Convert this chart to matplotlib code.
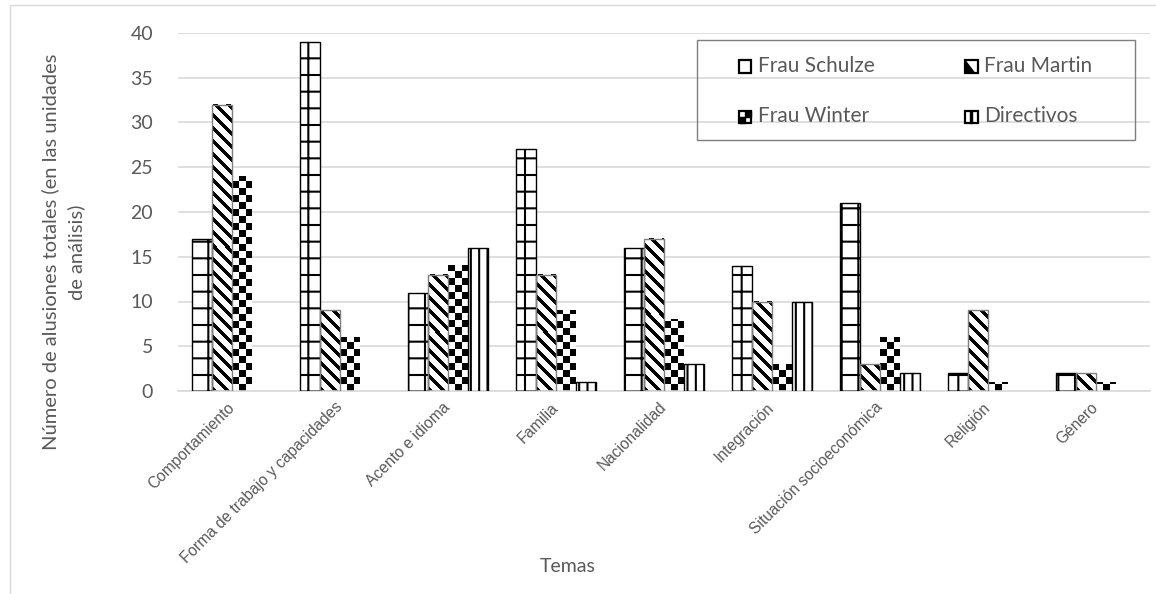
import numpy as np
import matplotlib
matplotlib.use("Agg")
import matplotlib.pyplot as plt
from matplotlib.patches import Rectangle, Polygon
from matplotlib.legend_handler import HandlerBase

temas = ["Comportamiento", "Forma de trabajo y capacidades", "Acento e idioma",
         "Familia", "Nacionalidad", "Integración", "Situación socioeconómica",
         "Religión", "Género"]
series = ["Frau Schulze", "Frau Martin", "Frau Winter", "Directivos"]
schulze = [17, 39, 11, 27, 16, 14, 21, 2, 2]
martin = [32, 9, 13, 13, 17, 10, 3, 9, 2]
winter = [24, 6, 14, 9, 8, 3, 6, 1, 1]
directivos = [0, 0, 16, 1, 3, 10, 2, 0, 0]

GRIS = "#595959"
plt.rcParams["hatch.linewidth"] = 1.5
plt.rcParams["font.family"] = ["Lato", "DejaVu Sans"]

W, H = 1156, 594
fig = plt.figure(figsize=(W / 100, H / 100), dpi=100)
ax = fig.add_axes([178 / W, 1 - 391 / H, 972 / W, 358 / H])

x = np.arange(len(temas))
ancho = 0.185
XLIM, YLIM = (-0.5, len(temas) - 0.5), (0, 40)
ax.set_xlim(*XLIM)
ax.set_ylim(*YLIM)


def relleno(ax, barra, tipo):
    # pattern image at screen resolution, laid over one bar
    x0, y0 = barra.get_x(), barra.get_y()
    x1, y1 = x0 + barra.get_width(), y0 + barra.get_height()
    (px0, py0), (px1, py1) = ax.transData.transform([(x0, y0), (x1, y1)])
    w, h = int(round(px1 - px0)), int(round(py1 - py0))
    if h <= 0:
        return
    yy, xx = np.mgrid[0:h, 0:w]
    if tipo == "ajedrez":
        negro = ((xx // 7 + yy // 7) % 2) == 1
    else:
        negro = ((xx + yy) % 13) < 5
    img = np.where(negro, 0.0, 1.0)
    ax.imshow(img, cmap="gray", vmin=0, vmax=1, origin="lower",
              extent=(x0, x1, y0, y1), aspect="auto",
              interpolation="nearest", zorder=2)


offs = [-1.5, -0.5, 0.5, 1.5]
b1 = ax.bar(x + offs[0] * ancho, schulze, ancho, facecolor="white",
            edgecolor="black", hatch="+", linewidth=1, zorder=3)
b2 = ax.bar(x + offs[1] * ancho, martin, ancho, facecolor="none",
            edgecolor="#7f7f7f", linewidth=1, zorder=3)
b3 = ax.bar(x + offs[2] * ancho, winter, ancho, facecolor="none",
            edgecolor="none", linewidth=0, zorder=3)
b4 = ax.bar(x + offs[3] * ancho, directivos, ancho, facecolor="white",
            edgecolor="black", hatch="||", linewidth=1, zorder=3)
for b in b2:
    relleno(ax, b, "rayas")
for b in b3:
    relleno(ax, b, "ajedrez")
# empty bars leave no outline on the axis
for grupo in (b1, b2, b3, b4):
    for b in grupo:
        if b.get_height() == 0:
            b.set_visible(False)
ax.set_xlim(*XLIM)
ax.set_ylim(*YLIM)

ax.set_yticks(np.arange(0, 41, 5))
ax.yaxis.grid(True, color="#d9d9d9", linewidth=1.2, zorder=0)
ax.set_axisbelow(True)
for s in ["top", "right", "left"]:
    ax.spines[s].set_visible(False)
ax.spines["bottom"].set_color("#d9d9d9")
ax.spines["bottom"].set_linewidth(1.2)
ax.tick_params(axis="both", length=0, colors=GRIS)
ax.tick_params(axis="y", labelsize=14, pad=18)

ax.set_xticks(x)
ax.set_xticklabels(temas, rotation=45, ha="right", va="center",
                   rotation_mode="anchor", fontsize=11.2,
                   family=["Liberation Sans", "DejaVu Sans"])
ax.tick_params(axis="x", pad=10)

fig.text(568 / W, 1 - 567 / H, "Temas", ha="center", va="center",
         fontsize=14, color=GRIS)
fig.text(63 / W, 1 - 252 / H,
         "Número de alusiones totales (en las unidades\nde análisis)",
         rotation=90, ha="center", va="center", fontsize=14.5, color=GRIS,
         multialignment="center", linespacing=1.55)


class Icono(HandlerBase):
    def __init__(self, tipo):
        super().__init__()
        self.tipo = tipo

    def create_artists(self, legend, orig, xd, yd, width, height, fontsize, trans):
        s = height
        x0, y0 = xd + width - s, yd
        arts = [Rectangle((x0, y0), s, s, facecolor="white", edgecolor="black",
                          linewidth=1.6, transform=trans)]
        if self.tipo == "rayas":
            arts.append(Polygon([(x0, y0 + s), (x0 + s * 0.75, y0), (x0, y0)],
                                closed=True, color="black", transform=trans))
        elif self.tipo == "ajedrez":
            arts.append(Rectangle((x0, y0), s / 2, s / 2, color="black", transform=trans))
            arts.append(Rectangle((x0 + s / 2, y0 + s / 2), s / 2, s / 2,
                                  color="black", transform=trans))
        elif self.tipo == "lineas":
            arts.append(Rectangle((x0 + s / 2 - 0.6, y0), 1.2, s, color="black",
                                  transform=trans))
        return arts


leg = fig.legend([b1, b3, b2, b4],
                 [series[0], series[2], series[1], series[3]],
                 handler_map={b1: Icono("liso"), b2: Icono("rayas"),
                              b3: Icono("ajedrez"), b4: Icono("lineas")},
                 loc="center", bbox_to_anchor=(916 / W, 1 - 91 / H),
                 ncol=2, frameon=False, fontsize=15, labelcolor=GRIS,
                 handlelength=0.55, handleheight=0.55, handletextpad=0.3,
                 columnspacing=4.4, labelspacing=1.45)

fig.add_artist(Rectangle((697 / W, 1 - 140 / H), 438 / W, 100 / H,
                         transform=fig.transFigure, fill=False,
                         edgecolor="#7f7f7f", linewidth=1))
fig.add_artist(Rectangle((10 / W, -0.1), 1.2, 1.1 - 5 / H,
                         transform=fig.transFigure, fill=False,
                         edgecolor="#d9d9d9", linewidth=1))

fig.savefig("out.png", dpi=100, facecolor="white")
